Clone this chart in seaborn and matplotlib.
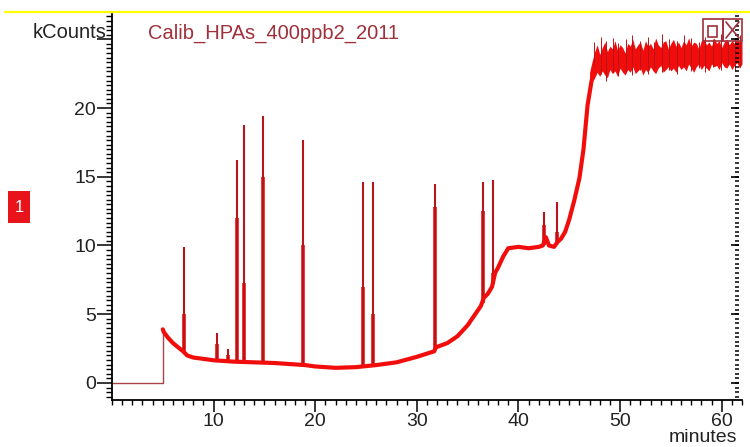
import matplotlib
matplotlib.use("Agg")
import matplotlib.pyplot as plt
import matplotlib.lines as mlines
import seaborn as sns
import pandas as pd
from matplotlib.ticker import MultipleLocator, FixedLocator
from matplotlib.patches import Rectangle
from matplotlib.lines import Line2D

# ---------------- data ----------------
title_text = "Calib_HPAs_400ppb2_2011"
y_label = "kCounts"
x_label = "minutes"
trace_badge = "1"

pre_time = [0.0, 5.0, 5.0]
pre_kcounts = [0.0, 0.0, 3.9]

baseline_time = [5.0, 5.1, 5.5, 6.0, 6.5, 7.0, 7.4, 8.0, 9.0, 10.0, 12.0, 14.0, 16.0,
                 18.0, 19.0, 20.0, 22.0, 24.0, 26.0, 28.0, 30.0, 31.7, 31.9, 33.0,
                 34.0, 35.0, 36.3, 36.6, 37.0, 37.4, 37.7, 38.0, 38.5, 39.0, 40.0,
                 41.0, 42.0, 42.4, 42.7, 43.0, 43.5, 43.9, 44.2, 44.6, 45.0, 45.5,
                 46.0, 46.4, 46.8, 47.2, 47.6, 48.0]
baseline_kcounts = [3.9, 3.7, 3.3, 2.9, 2.6, 2.3, 2.0, 1.85, 1.75, 1.65, 1.55, 1.5, 1.45,
                    1.35, 1.3, 1.2, 1.1, 1.15, 1.3, 1.5, 1.9, 2.3, 2.6, 2.9,
                    3.4, 4.2, 5.6, 6.2, 6.5, 7.0, 8.0, 8.4, 9.2, 9.8, 9.9,
                    9.8, 9.9, 10.0, 10.6, 10.0, 9.9, 10.3, 10.5, 11.0, 11.9, 13.3,
                    14.9, 17.0, 20.2, 22.0, 22.9, 23.2]

peak_times = [7.1, 10.3, 11.4, 12.3, 13.0, 14.9, 18.8, 24.7, 25.7, 31.8, 36.5, 37.5, 42.5, 43.8]
peak_heights = [9.9, 3.6, 2.5, 16.2, 18.8, 19.4, 17.7, 14.6, 14.6, 14.5, 14.6, 14.8, 12.4, 13.2]
peak_bases = [2.2, 1.65, 1.6, 1.55, 1.55, 1.45, 1.35, 1.15, 1.2, 2.4, 5.8, 7.2, 10.0, 10.2]
peak_shoulders = [5.0, 2.8, 2.0, 12.0, 7.3, 15.0, 10.0, 7.0, 5.0, 12.8, 12.5, 8.0, 11.5, 11.0]

plateau_time = [47.0, 47.25, 47.5, 47.75, 48.0, 48.25, 48.5, 48.75, 49.0, 49.25,
                49.5, 49.75, 50.0, 50.25, 50.5, 50.75, 51.0, 51.25, 51.5, 51.75,
                52.0, 52.25, 52.5, 52.75, 53.0, 53.25, 53.5, 53.75, 54.0, 54.25,
                54.5, 54.75, 55.0, 55.25, 55.5, 55.75, 56.0, 56.25, 56.5, 56.75,
                57.0, 57.25, 57.5, 57.75, 58.0, 58.25, 58.5, 58.75, 59.0, 59.25,
                59.5, 59.75, 60.0, 60.25, 60.5, 60.75, 61.0, 61.25, 61.5, 61.75, 62.0]
plateau_high = [22.6, 23.4, 24.1, 24.6, 23.9, 24.4, 24.8, 24.1, 24.5, 24.3,
                24.9, 24.2, 24.6, 24.4, 24.0, 24.7, 24.5, 25.0, 24.3, 24.6,
                24.8, 24.2, 24.9, 24.5, 24.7, 24.3, 25.1, 24.6, 24.4, 24.8,
                24.9, 24.3, 24.7, 25.0, 24.5, 24.8, 24.4, 24.9, 24.6, 25.1,
                24.5, 24.8, 24.7, 24.3, 24.9, 25.0, 24.6, 24.8, 24.5, 25.1,
                24.7, 24.9, 24.4, 24.8, 25.0, 24.6, 24.9, 24.7, 25.0, 24.8, 24.9]
plateau_low = [21.2, 21.9, 22.2, 22.6, 22.3, 22.7, 22.4, 22.2, 22.8, 22.5,
               22.7, 22.3, 22.9, 22.6, 22.4, 22.8, 22.6, 23.0, 22.5, 22.7,
               22.9, 22.4, 22.8, 22.6, 23.0, 22.7, 22.5, 22.9, 23.1, 22.6,
               22.8, 23.0, 22.7, 22.9, 22.6, 23.1, 22.8, 23.0, 22.7, 23.2,
               22.9, 22.6, 23.0, 23.2, 22.8, 23.1, 22.9, 22.7, 23.2, 23.0,
               23.1, 22.8, 23.3, 23.0, 22.9, 23.2, 22.8, 23.1, 23.3, 22.9, 23.2]

spike_time = [47.4, 48.1, 48.6, 49.3, 49.8, 50.6, 51.2, 52.0, 52.7, 53.3, 54.1,
              54.8, 55.6, 56.3, 57.0, 57.8, 58.4, 59.1, 59.9, 60.6, 61.3, 61.8]
spike_top = [24.8, 25.2, 24.9, 25.1, 24.7, 25.0, 25.3, 24.9, 25.2, 24.8, 25.4,
             25.0, 24.9, 25.3, 25.1, 24.8, 25.2, 25.0, 25.4, 24.9, 25.1, 25.3]
spike_bottom = [22.2, 22.5, 22.0, 22.6, 22.3, 22.7, 22.4, 22.8, 22.5, 22.9, 22.6,
                22.8, 22.5, 23.0, 22.7, 22.9, 22.6, 23.0, 22.8, 23.1, 22.7, 23.0]

x_major_ticks = [10, 20, 30, 40, 50, 60]
y_major_ticks = [0, 5, 10, 15, 20, 25]
y_tick_labels = ["0", "5", "10", "15", "20", ""]

# ---------------- style ----------------
sns.set_theme(style="ticks")
plt.rcParams["font.family"] = ["Liberation Sans", "DejaVu Sans"]

RED = "#f20d0d"
DARK = "#b8141b"
TXT = "#a0303a"

fig = plt.figure(figsize=(7.5, 4.47), dpi=100)
fig.patch.set_facecolor("white")
ax = fig.add_axes([112 / 750, 1 - 400 / 447, 630 / 750, 386 / 447])
ax.set_facecolor("white")

pre_df = pd.DataFrame({"t": pre_time, "k": pre_kcounts})
base_df = pd.DataFrame({"t": baseline_time, "k": baseline_kcounts})
plat_df = pd.DataFrame({"t": plateau_time, "lo": plateau_low, "hi": plateau_high})

sns.lineplot(data=pre_df, x="t", y="k", sort=False, estimator=None,
             color="#a8444a", lw=1.0, ax=ax)
ax.fill_between(plat_df["t"], plat_df["lo"], plat_df["hi"], color=RED, lw=0)
ax.vlines(spike_time, spike_bottom, spike_top, color=DARK, lw=0.7)
ax.vlines(peak_times, peak_bases, peak_shoulders, color=RED, lw=2.6)
ax.vlines(peak_times, peak_bases, peak_heights, color=DARK, lw=1.5)
sns.lineplot(data=base_df, x="t", y="k", sort=False, estimator=None,
             color=RED, lw=3.0, ax=ax)

ax.set_xlim(0, 62)
ax.set_ylim(-1.24, 26.84)
ax.set_xlabel("")
ax.set_ylabel("")

ax.spines["top"].set_visible(False)
ax.spines["right"].set_visible(False)
for s in ["left", "bottom"]:
    ax.spines[s].set_color("black")
    ax.spines[s].set_linewidth(1.3)

ax.xaxis.set_major_locator(FixedLocator(x_major_ticks))
ax.xaxis.set_minor_locator(MultipleLocator(1))
ax.yaxis.set_major_locator(FixedLocator(y_major_ticks))
ax.set_yticklabels(y_tick_labels)
ax.yaxis.set_minor_locator(MultipleLocator(1 / 3))

ax.tick_params(axis="x", which="major", direction="out", length=8.5, width=1.1,
               color="black", labelsize=14, pad=1, bottom=True, top=False)
ax.tick_params(axis="x", which="minor", direction="out", length=3.5, width=1.0,
               color="black", bottom=True, top=False)
ax.tick_params(axis="y", which="major", direction="out", length=10.5, width=1.1,
               color="black", labelsize=14, pad=1, left=True, right=False)
ax.tick_params(axis="y", which="minor", direction="out", length=4.5, width=1.0,
               color="black", left=True, right=False)
for lab in ax.get_xticklabels() + ax.get_yticklabels():
    lab.set_color("#222222")

# right-hand inward tick marks, at the y axis' own tick locations
ytrans = ax.get_yaxis_transform()
minor_locs = [float(v) for v in ax.yaxis.get_minor_locator().tick_values(-1.24, 26.84)
              if -1.24 <= v <= 26.84]
ax.plot([0.995] * len(minor_locs), minor_locs, transform=ytrans, ls="none",
        marker=mlines.TICKLEFT, markersize=3, markeredgewidth=1.1,
        color="black", clip_on=False, zorder=6)
ax.plot([0.995] * len(y_major_ticks), y_major_ticks, transform=ytrans, ls="none",
        marker=mlines.TICKLEFT, markersize=6, markeredgewidth=1.2,
        color="black", clip_on=False, zorder=6)

# ---------------- decorations ----------------
fig.add_artist(Line2D([5 / 750, 1.0], [1 - 12 / 447, 1 - 12 / 447],
                      transform=fig.transFigure, color="#ffff00", lw=1.6))
fig.text(107 / 750, 1 - 33 / 447, y_label, ha="right", va="center",
         fontsize=14.5, color="#222222")
fig.text(148 / 750, 1 - 33 / 447, title_text, ha="left", va="center",
         fontsize=14.5, color=TXT)
fig.text(737 / 750, 1 - 437 / 447, x_label, ha="right", va="center",
         fontsize=14, color="#222222")

fig.add_artist(Rectangle((8 / 750, 1 - 223 / 447), 22 / 750, 32 / 447,
                         transform=fig.transFigure, facecolor="#e8131b", edgecolor="none"))
fig.text(19 / 750, 1 - 207 / 447, trace_badge, ha="center", va="center",
         fontsize=12, color="white")

# window icons (top right)
icon_kw = dict(transform=fig.transFigure, facecolor="none", edgecolor=TXT, lw=1.2)
fig.add_artist(Rectangle((703 / 750, 1 - 41 / 447), 20 / 750, 22 / 447, **icon_kw))
fig.add_artist(Rectangle((708 / 750, 1 - 37 / 447), 9 / 750, 11 / 447, **icon_kw))
fig.add_artist(Rectangle((723 / 750, 1 - 41 / 447), 19 / 750, 22 / 447, **icon_kw))
fig.add_artist(Line2D([726 / 750, 739 / 750], [1 - 22 / 447, 1 - 38 / 447],
                      transform=fig.transFigure, color=TXT, lw=1.2))
fig.add_artist(Line2D([726 / 750, 739 / 750], [1 - 38 / 447, 1 - 22 / 447],
                      transform=fig.transFigure, color=TXT, lw=1.2))

fig.savefig("out.png", dpi=100, facecolor="white")
